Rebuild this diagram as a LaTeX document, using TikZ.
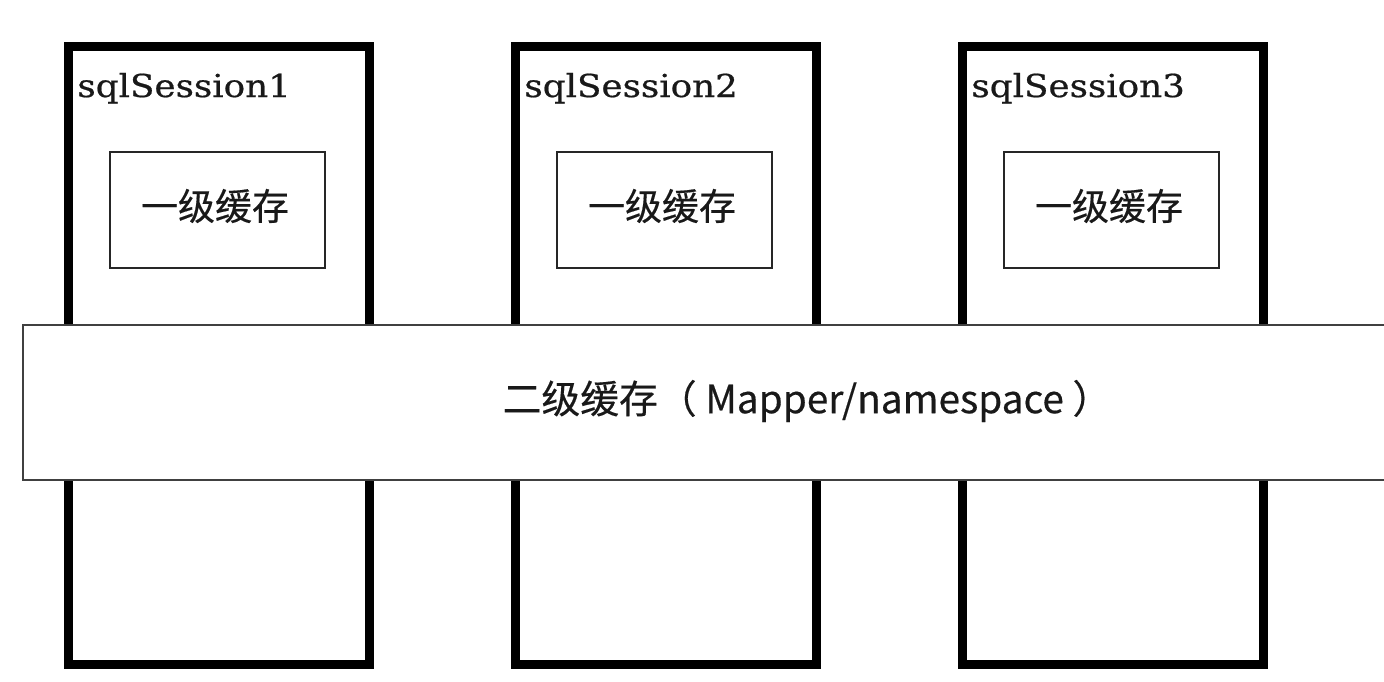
\documentclass[tikz,border=0pt]{standalone}
\usepackage{fontspec}
\newfontfamily\cjk[FakeBold=0.4]{Noto Sans CJK SC}
\newfontfamily\labelserif[FakeStretch=1.13,FakeBold=0.6]{DejaVu Serif}
\begin{document}
\begin{tikzpicture}[x=0.5pt,y=-0.5pt,
  session/.style={draw=black,line width=4.5pt,line join=miter},
  cachebox/.style={draw=black!85,line width=1pt},
  band/.style={draw=black!75,line width=1pt,fill=white},
  sesslabel/.style={anchor=base west,inner sep=0pt,font=\labelserif\fontsize{15.8pt}{18pt}\selectfont,text=black!90},
  cachelabel/.style={inner sep=0pt,font=\cjk\fontsize{18.5pt}{22pt}\selectfont,text=black!90},
  bandlabel/.style={inner sep=0pt,font=\cjk\fontsize{19.4pt}{23pt}\selectfont,text=black!90}]
\path[use as bounding box,fill=white] (0,0) rectangle (1384,681);
% sessions
\foreach \i/\dx in {1/0,2/447,3/894}{
  \draw[session] (68+\dx,46) rectangle (369+\dx,664);
  \node[sesslabel] (s\i) at (77+\dx,97) {sqlSession\i};
  \draw[cachebox] (110+\dx,152) rectangle (325+\dx,268);
  \node[cachelabel] (c\i) at (215+\dx,206) {一级缓存};
}
% second-level cache band
\draw[band] (1400,325) -- (23,325) -- (23,480) -- (1400,480);
\node[bandlabel] (l2) at (807,401) {二级缓存（ Mapper/namespace ）};
\end{tikzpicture}
\end{document}
